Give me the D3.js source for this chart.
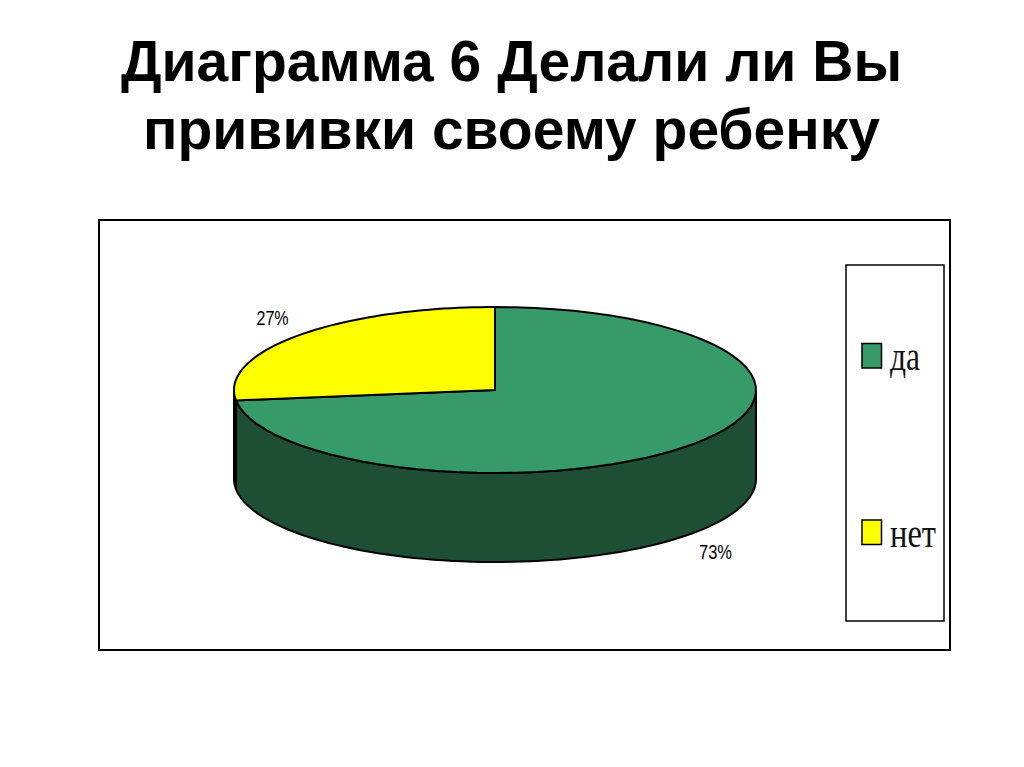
<!DOCTYPE html>
<html><head><meta charset="utf-8"><style>html,body{margin:0;background:#fff}svg{display:block}</style>
<script src="https://cdn.jsdelivr.net/npm/d3@7"></script></head><body><script>
const categories = ["да", "нет"];
const values = [73, 27];
const colors = ["#369b69", "#ffff00"];
const wallColors = ["#1e4f34", "#8a8a00"];
const titleLines = ["Диаграмма 6 Делали ли Вы", "прививки своему ребенку"];
const svg = d3.select("body").append("svg").attr("width",1024).attr("height",767);
svg.selectAll("text.t").data(titleLines).join("text").attr("class","t")
 .attr("x",511.5).attr("y",(d,i)=>[81,149][i]).attr("text-anchor","middle")
 .attr("font-family","Liberation Sans").attr("font-weight","bold").attr("font-size",57).attr("fill","#000").text(d=>d);
svg.append("rect").attr("x",99).attr("y",220).attr("width",851).attr("height",430).attr("fill","#fff").attr("stroke","#000").attr("stroke-width",2);
svg.append("rect").attr("x",846).attr("y",265).attr("width",98).attr("height",356).attr("fill","#fff").attr("stroke","#000").attr("stroke-width",1.5);
const cx=495, cy=390, rx=261, ry=83, depth=89;
const pie=d3.pie().sort(null).value(d=>d)(values);
const pt=a=>[cx+rx*Math.sin(a),cy-ry*Math.cos(a)];
function sector(s){const n=60;const sc=d3.scaleLinear().domain([0,n]).range([s.startAngle,s.endAngle]);
 return d3.line()([[cx,cy],...d3.range(n+1).map(i=>pt(sc(i)))])+"Z";}
function wall(a0,a1){const ws=d3.scaleLinear().domain([0,80]).range([a0,a1]);
 const upper=d3.range(81).map(i=>pt(ws(i)));
 const lower=upper.slice().reverse().map(p=>[p[0],p[1]+depth]);
 return d3.line()([...upper,...lower])+"Z";}
const wallLayer=svg.append("g").attr("stroke","#000").attr("stroke-width",2);
wallLayer.append("path").attr("d",wall(pie[1].startAngle,3*Math.PI/2)).attr("fill",wallColors[1]);
wallLayer.append("path").attr("d",wall(Math.PI/2,pie[0].endAngle)).attr("fill",wallColors[0]);
svg.selectAll("path.s").data(pie).join("path").attr("class","s").attr("d",sector).attr("fill",(d,i)=>colors[i]).attr("stroke","#000").attr("stroke-width",2);
svg.append("text").attr("x",272.5).attr("y",325).attr("text-anchor","middle").attr("font-family","Liberation Sans").attr("font-size",20).attr("textLength",32).attr("lengthAdjust","spacingAndGlyphs").text(values[1]+"%");
svg.append("text").attr("x",715.5).attr("y",559).attr("text-anchor","middle").attr("font-family","Liberation Sans").attr("font-size",20).attr("textLength",33).attr("lengthAdjust","spacingAndGlyphs").text(values[0]+"%");
const keyY=[343.5,520];
const labelY=[370,547];
const labelW=[30,46];
svg.selectAll("rect.k").data(categories).join("rect").attr("class","k").attr("x",862).attr("y",(d,i)=>keyY[i]).attr("width",19.5).attr("height",24.5).attr("fill",(d,i)=>colors[i]).attr("stroke","#000").attr("stroke-width",1.5);
svg.selectAll("text.l").data(categories).join("text").attr("class","l").attr("x",890).attr("y",(d,i)=>labelY[i]).attr("font-family","Liberation Serif").attr("font-size",40).attr("textLength",(d,i)=>labelW[i]).attr("lengthAdjust","spacingAndGlyphs").attr("fill","#111").text(d=>d);
</script></body></html>
